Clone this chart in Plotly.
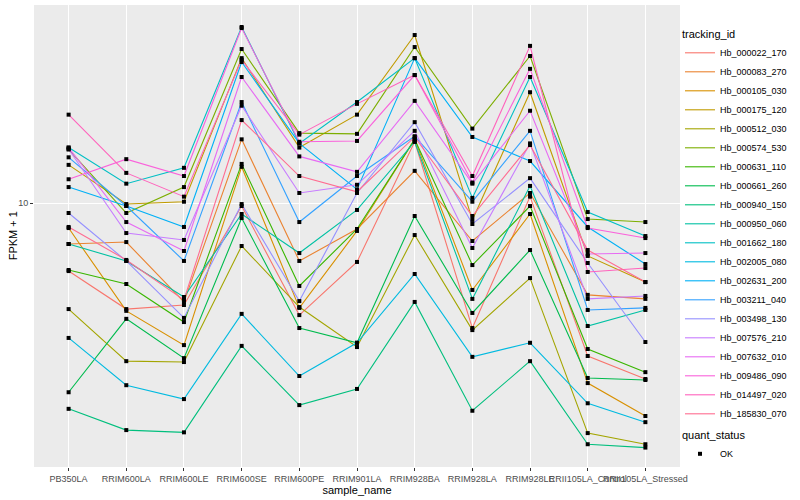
import plotly.graph_objects as go

samples = ["PB350LA", "RRIM600LA", "RRIM600LE", "RRIM600SE", "RRIM600PE", "RRIM901LA",
           "RRIM928BA", "RRIM928LA", "RRIM928LE", "RRII105LA_Control", "RRII105LA_Stressed"]

# FPKM + 1 values per gene, one per sample
Hb_000022_170 = [5.93, 4.43, 4.57, 9.77, 4.23, 6.36, 16.0, 3.83, 10.5, 3.09, 2.59]
Hb_000083_270 = [7.30, 7.41, 4.68, 16.3, 6.41, 8.19, 12.8, 7.47, 10.8, 4.94, 4.79]
Hb_000105_030 = [8.25, 4.37, 3.36, 13.2, 4.47, 8.07, 16.3, 5.13, 9.19, 2.51, 1.95]
Hb_000175_120 = [13.4, 9.92, 10.1, 30.4, 15.3, 19.7, 36.3, 8.78, 23.4, 6.66, 5.45]
Hb_000512_030 = [4.43, 2.97, 2.95, 7.19, 4.50, 3.31, 7.82, 3.77, 5.62, 1.71, 1.57]
Hb_000574_530 = [15.1, 9.26, 11.3, 32.6, 17.1, 17.0, 33.1, 17.7, 30.9, 8.84, 8.64]
Hb_000631_110 = [5.98, 5.37, 4.01, 13.5, 5.29, 8.19, 16.3, 6.21, 9.77, 3.26, 2.73]
Hb_000661_260 = [2.34, 4.11, 3.04, 8.91, 3.83, 3.42, 9.05, 4.30, 6.97, 2.61, 2.57]
Hb_000940_150 = [2.06, 1.75, 1.72, 3.34, 2.12, 2.40, 4.68, 2.03, 2.97, 1.57, 1.53]
Hb_000950_060 = [7.30, 6.41, 4.86, 9.19, 6.81, 9.48, 16.0, 4.79, 11.4, 3.89, 4.40]
Hb_001662_180 = [15.3, 11.6, 13.1, 38.6, 15.8, 21.7, 30.4, 10.4, 26.3, 9.33, 7.76]
Hb_002005_080 = [3.55, 2.47, 2.22, 4.27, 2.65, 3.42, 5.80, 3.07, 3.42, 2.15, 1.86]
Hb_002631_200 = [11.3, 9.77, 8.32, 29.5, 15.8, 11.1, 30.4, 16.6, 13.8, 8.32, 6.26]
Hb_003211_040 = [14.2, 9.77, 6.41, 21.7, 8.64, 12.3, 16.7, 10.1, 17.4, 4.40, 4.47]
Hb_003498_130 = [9.26, 6.41, 4.14, 9.92, 4.71, 10.8, 18.6, 8.51, 12.1, 6.31, 3.44]
Hb_007576_210 = [15.1, 7.94, 7.53, 21.1, 10.8, 11.5, 17.4, 7.08, 15.8, 4.79, 4.90]
Hb_007632_010 = [15.3, 8.64, 6.92, 26.3, 14.3, 12.7, 21.9, 11.6, 20.3, 6.76, 6.81]
Hb_009486_090 = [12.0, 14.0, 12.3, 38.3, 16.0, 16.1, 26.7, 11.7, 28.0, 8.25, 7.64]
Hb_014497_020 = [19.7, 12.6, 10.5, 30.0, 16.9, 21.4, 26.7, 12.3, 33.4, 5.89, 6.07]
Hb_185830_070 = [8.32, 6.46, 4.75, 18.9, 12.3, 10.9, 16.6, 9.05, 15.6, 6.97, 5.45]

tracking_ids = ["Hb_000022_170", "Hb_000083_270", "Hb_000105_030", "Hb_000175_120", "Hb_000512_030",
                "Hb_000574_530", "Hb_000631_110", "Hb_000661_260", "Hb_000940_150", "Hb_000950_060",
                "Hb_001662_180", "Hb_002005_080", "Hb_002631_200", "Hb_003211_040", "Hb_003498_130",
                "Hb_007576_210", "Hb_007632_010", "Hb_009486_090", "Hb_014497_020", "Hb_185830_070"]
series = [Hb_000022_170, Hb_000083_270, Hb_000105_030, Hb_000175_120, Hb_000512_030,
          Hb_000574_530, Hb_000631_110, Hb_000661_260, Hb_000940_150, Hb_000950_060,
          Hb_001662_180, Hb_002005_080, Hb_002631_200, Hb_003211_040, Hb_003498_130,
          Hb_007576_210, Hb_007632_010, Hb_009486_090, Hb_014497_020, Hb_185830_070]

colors = ["#F8766D", "#EA8331", "#D89000", "#C09B00", "#A3A500", "#7CAE00", "#39B600", "#00BB4E",
          "#00BF7D", "#00C1A3", "#00BFC4", "#00BAE0", "#00B0F6", "#35A2FF", "#9590FF", "#C77CFF",
          "#E76BF3", "#FA62DB", "#FF62BC", "#FF6C91"]

FONT = "Liberation Sans, Arial, sans-serif"

fig = go.Figure()
for name, vals, col in zip(tracking_ids, series, colors):
    fig.add_trace(go.Scatter(x=samples, y=vals, mode="lines", name=name,
                             line=dict(color=col, width=1.1), legend="legend"))

px_all = [s for vals in series for s in samples]
py_all = [v for vals in series for v in vals]
fig.add_trace(go.Scatter(x=px_all, y=py_all, mode="markers", name="OK",
                         marker=dict(symbol="square", size=4, color="black"),
                         legend="legend2"))

axis_common = dict(showgrid=True, gridcolor="white", gridwidth=1.1, zeroline=False,
                   showline=False, ticks="outside", ticklen=3, tickcolor="#333333",
                   tickfont=dict(size=9, color="#4D4D4D", family=FONT), automargin=False)

fig.update_layout(
    width=800, height=500,
    margin=dict(l=34, r=116, t=5, b=33),
    paper_bgcolor="white", plot_bgcolor="#EBEBEB",
    font=dict(family=FONT, color="black"),
    xaxis=dict(type="category", range=[-0.6, 10.6], tickangle=0,
               title=dict(text="sample_name", font=dict(size=11), standoff=2), **axis_common),
    yaxis=dict(type="log", range=[0.12, 1.66], tickvals=[10], ticktext=["10"], **axis_common),
    legend=dict(title=dict(text="tracking_id", font=dict(size=11)), font=dict(size=9),
                xref="container", yref="container", x=0.85, y=0.952, xanchor="left", yanchor="top",
                bgcolor="rgba(0,0,0,0)", tracegroupgap=0, maxheight=470),
    legend2=dict(title=dict(text="quant_status", font=dict(size=11)), font=dict(size=9),
                 xref="container", yref="container", x=0.85, y=0.15, xanchor="left", yanchor="top",
                 bgcolor="rgba(0,0,0,0)"),
    annotations=[dict(text="FPKM + 1", xref="paper", yref="paper", x=-0.032, y=0.5,
                      textangle=-90, showarrow=False, font=dict(size=11, color="black"),
                      xanchor="center", yanchor="middle")],
)

fig.write_html("out.html", config={"displayModeBar": False},
               post_script="document.body.style.margin='0';")
